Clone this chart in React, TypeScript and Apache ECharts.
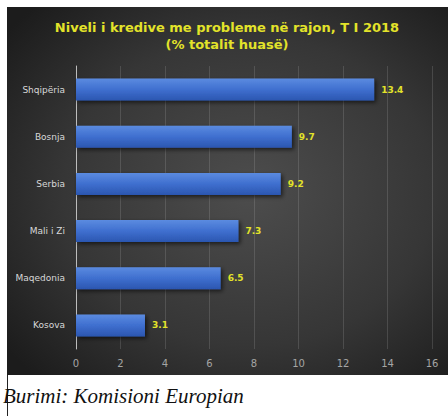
import React, { useEffect, useRef } from "react";
import * as echarts from "echarts";

const categories = ["Kosova", "Maqedonia", "Mali i Zi", "Serbia", "Bosnja", "Shqipëria"];
const values = [3.1, 6.5, 7.3, 9.2, 9.7, 13.4];
const titleLines = ["Niveli i kredive me probleme në rajon, T I 2018", "(% totalit huasë)"];
const sourceText = "Burimi: Komisioni Europian";

export default function App() {
  const ref = useRef<HTMLDivElement>(null);
  useEffect(() => {
    const chart = echarts.init(ref.current!, null, { renderer: "svg" });
    chart.setOption({
      animation: false,
      backgroundColor: "#ffffff",
      graphic: [
        {
          type: "rect",
          z: -10,
          shape: { x: 7, y: 7, width: 441, height: 368 },
          style: {
            fill: new echarts.graphic.RadialGradient(0.55, 0.5, 0.7, [
              { offset: 0, color: "#4d4d4d" },
              { offset: 0.6, color: "#363636" },
              { offset: 1, color: "#1c1c1c" },
            ]),
          },
        },
        {
          type: "line",
          shape: { x1: 7.5, y1: 375, x2: 7.5, y2: 416 },
          style: { stroke: "#222", lineWidth: 1 },
        },
        {
          type: "text",
          left: 3,
          top: 385,
          style: {
            text: sourceText,
            font: "italic 21px 'Liberation Serif', serif",
            fill: "#111",
          },
        },
      ],
      title: {
        text: titleLines.join("\n"),
        left: 222,
        textAlign: "center",
        top: 14,
        textStyle: {
          color: "#e3e32a",
          fontSize: 13,
          fontWeight: "bold",
          fontFamily: "'DejaVu Sans', sans-serif",
          lineHeight: 17,
        },
      },
      grid: { left: 76, right: 16, top: 66, bottom: 67 },
      xAxis: {
        type: "value",
        min: 0,
        max: 16,
        interval: 2,
        axisLine: { show: false },
        axisTick: { show: false },
        splitLine: { show: true, lineStyle: { color: "rgba(200,200,200,0.18)", width: 1 } },
        axisLabel: {
          color: "#a5a5a5",
          fontSize: 10,
          fontFamily: "'DejaVu Sans', sans-serif",
          margin: 9,
        },
      },
      yAxis: {
        type: "category",
        data: categories,
        axisLine: { show: true, lineStyle: { color: "#bdbdbd", width: 1 } },
        axisTick: { show: false },
        axisLabel: {
          color: "#d8d8d8",
          fontSize: 9,
          fontFamily: "'DejaVu Sans', sans-serif",
          margin: 11,
        },
      },
      series: [
        {
          type: "bar",
          data: values,
          barWidth: 22,
          itemStyle: {
            color: new echarts.graphic.LinearGradient(0, 0, 0, 1, [
              { offset: 0, color: "#5b8be0" },
              { offset: 0.5, color: "#3f6fcf" },
              { offset: 1, color: "#2b56b0" },
            ]),
            shadowColor: "rgba(0,0,0,0.6)",
            shadowBlur: 4,
            shadowOffsetX: 2,
            shadowOffsetY: 2,
          },
          label: {
            show: true,
            position: "right",
            distance: 7,
            color: "#e3e32a",
            fontSize: 9,
            fontWeight: "bold",
            fontFamily: "'DejaVu Sans', sans-serif",
            formatter: (p: any) => p.value.toFixed(1),
          },
        },
      ],
    });
    return () => chart.dispose();
  }, []);
  return (
    <div
      ref={ref}
      style={{ position: "absolute", left: 0, top: 0, width: 448, height: 416 }}
    />
  );
}
